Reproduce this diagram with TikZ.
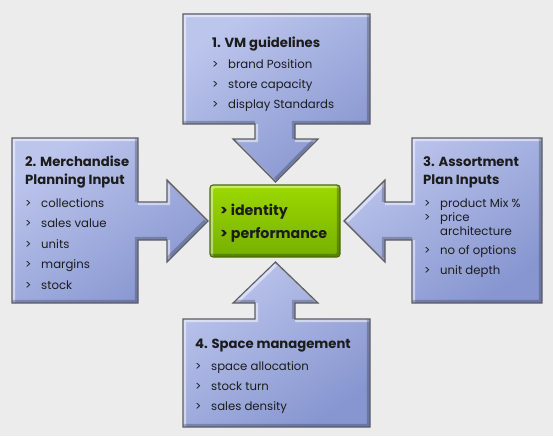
\documentclass[tikz,border=0pt]{standalone}
\usepackage{fontspec}
\setmainfont{Poppins}
\definecolor{bg}{HTML}{ECECEC}
\definecolor{boxlight}{HTML}{BCC5EC}
\definecolor{boxdark}{HTML}{8796D0}
\definecolor{boxline}{HTML}{5A5C66}
\definecolor{greenlight}{HTML}{9CD800}
\definecolor{greendark}{HTML}{76B000}
\definecolor{greenline}{HTML}{4A6A00}
\definecolor{txt}{HTML}{1C1C1C}
\newcommand\shapeA{(183,14) -- (370,14) -- (370,124) -- (295,124) -- (295,139) -- (318,139) -- (275.5,182) -- (233,139) -- (255,139) -- (255,124) -- (183,124) -- cycle}
\newcommand\shapeB{(12,138) -- (138,138) -- (138,202) -- (167,202) -- (167,180) -- (208,221) -- (167,262) -- (167,240) -- (138,240) -- (138,303) -- (12,303) -- cycle}
\newcommand\shapeC{(542,138) -- (412,138) -- (412,202) -- (385,202) -- (385,180) -- (344,221) -- (385,262) -- (385,240) -- (412,240) -- (412,303) -- (542,303) -- cycle}
\newcommand\shapeD{(183,427) -- (370,427) -- (370,319) -- (295,319) -- (295,303) -- (318,303) -- (275.5,262) -- (233,303) -- (255,303) -- (255,319) -- (183,319) -- cycle}
\newcommand\bevelshape[1]{%
  \shade[top color=boxlight, bottom color=boxdark, shading angle=35] #1;
  \begin{scope}
    \clip #1;
    \draw[white, opacity=0.5, line width=3, shift={(1.6,1.6)}] #1;
    \draw[black, opacity=0.22, line width=3, shift={(-1.6,-1.6)}] #1;
  \end{scope}
  \draw[boxline, line width=1.1, line join=miter] #1;
}
\newcommand\bul[4]{%
  \node[itm] (#1) at (#2,#3) {>};
  \node[itm] (#1t) at (#2+16,#3) {#4};
}
\begin{document}
\begin{tikzpicture}[x=1pt,y=-1pt,
  ttl/.style={anchor=base west, inner sep=0, text=txt, font=\bfseries\fontsize{13.2}{15}\selectfont},
  itm/.style={anchor=base west, inner sep=0, text=txt, font=\fontsize{11.7}{14}\selectfont},
  gtxt/.style={anchor=base west, inner sep=0, text=txt, font=\bfseries\fontsize{14.2}{16}\selectfont}]
\fill[bg] (0,0) rectangle (553,436);
\useasboundingbox (0,0) rectangle (553,436);
% shapes
\bevelshape{\shapeA}
\bevelshape{\shapeB}
\bevelshape{\shapeC}
\bevelshape{\shapeD}
% center
\shade[top color=greenlight, bottom color=greendark, rounded corners=3] (210,185) rectangle (340,257);
\begin{scope}
  \clip[rounded corners=3] (210,185) rectangle (340,257);
  \draw[white, opacity=0.45, line width=3, rounded corners=3, shift={(1.6,1.6)}] (210,185) rectangle (340,257);
  \draw[black, opacity=0.25, line width=3, rounded corners=3, shift={(-1.6,-1.6)}] (210,185) rectangle (340,257);
\end{scope}
\draw[greenline, line width=1.1, rounded corners=3] (210,185) rectangle (340,257);
\node[gtxt] (g1) at (220,215) {> identity};
\node[gtxt] (g2) at (220,238) {> performance};
% box 1
\node[ttl] (t1) at (212,48) {1. VM guidelines};
\bul{a1}{212}{68}{brand Position}
\bul{a2}{212}{88}{store capacity}
\bul{a3}{212}{108}{display Standards}
% box 2
\node[ttl] (t2) at (25,166) {2. Merchandise};
\node[ttl] (t2b) at (25,184) {Planning Input};
\bul{b1}{25}{207}{collections}
\bul{b2}{25}{227}{sales value}
\bul{b3}{25}{248}{units}
\bul{b4}{25}{268}{margins}
\bul{b5}{25}{289}{stock}
% box 3
\node[ttl] (t3) at (423,166) {3. Assortment};
\node[ttl] (t3b) at (423,184) {Plan Inputs};
\bul{c1}{424}{207}{product Mix \%}
\bul{c2}{424}{221}{price}
\node[itm] (c2b) at (440,235) {architecture};
\bul{c3}{424}{254}{no of options}
\bul{c4}{424}{274}{unit depth}
% box 4
\node[ttl] (t4) at (195,348) {4. Space management};
\bul{d1}{195}{370}{space allocation}
\bul{d2}{195}{390}{stock turn}
\bul{d3}{195}{410}{sales density}
\end{tikzpicture}
\end{document}
